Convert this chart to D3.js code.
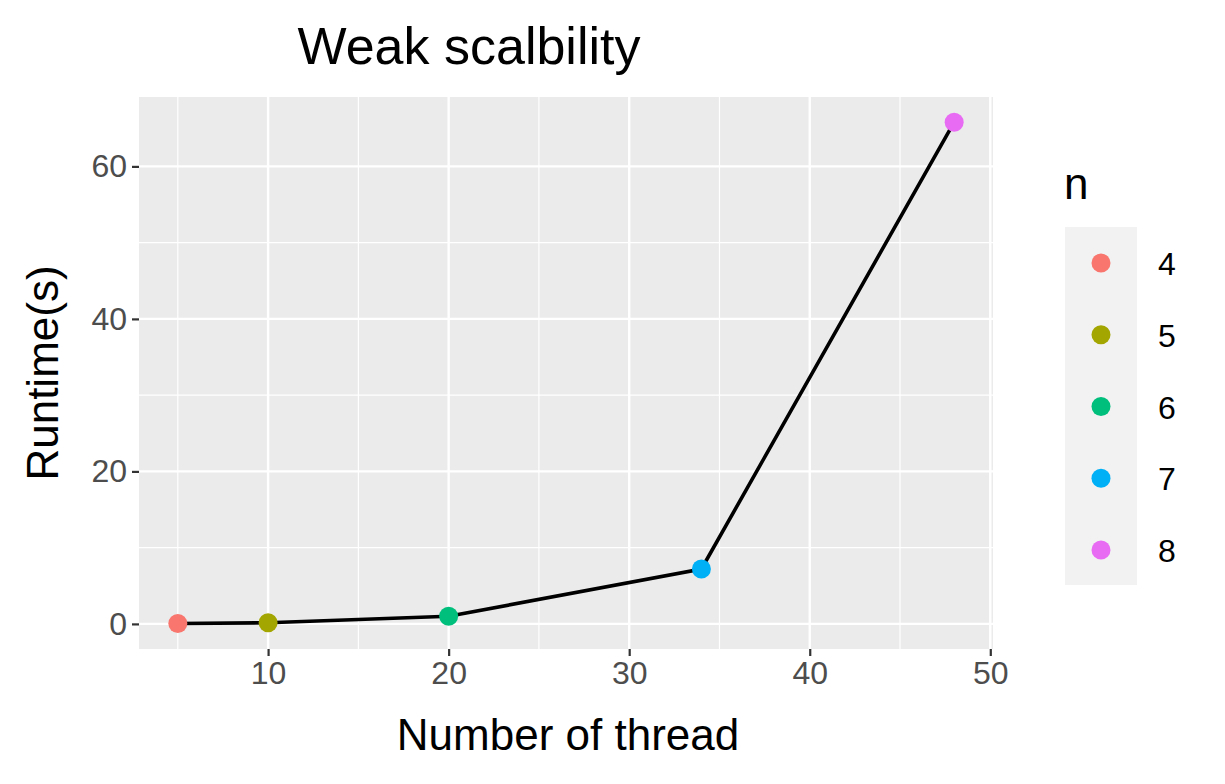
<!DOCTYPE html>
<html><head><meta charset="utf-8">
<script src="https://cdn.jsdelivr.net/npm/d3@7"></script>
<style>body{margin:0;background:#fff}text{font-family:"Liberation Sans",Arial,sans-serif}</style>
</head><body>
<svg id="chart" width="1225" height="784"></svg>
<script>
var threads = [5, 10, 20, 34, 48];
var runtime = [0.05, 0.15, 1.0, 7.2, 65.8];
var nLabels = ["4", "5", "6", "7", "8"];
var colors = ["#F8766D", "#A3A500", "#00BF7D", "#00B0F6", "#E76BF3"];
var xTicks = [10, 20, 30, 40, 50];
var yTicks = [0, 20, 40, 60];

var svg = d3.select("#chart");
var m = {l: 139, r: 993, t: 97, b: 649};
var x = d3.scaleLinear().domain([2.85, 50.15]).range([m.l, m.r]);
var y = d3.scaleLinear().domain([-3.29, 69.1]).range([m.b, m.t]);

svg.append("rect").attr("x", m.l).attr("y", m.t).attr("width", m.r - m.l).attr("height", m.b - m.t).attr("fill", "#EBEBEB");

var xMinor = [5, 15, 25, 35, 45], yMinor = [10, 30, 50];
var g = svg.append("g");
xMinor.forEach(function(d){ g.append("line").attr("x1", x(d)).attr("x2", x(d)).attr("y1", m.t).attr("y2", m.b).attr("stroke", "#fff").attr("stroke-width", 1.2); });
yMinor.forEach(function(d){ g.append("line").attr("y1", y(d)).attr("y2", y(d)).attr("x1", m.l).attr("x2", m.r).attr("stroke", "#fff").attr("stroke-width", 1.2); });
xTicks.forEach(function(d){ g.append("line").attr("x1", x(d)).attr("x2", x(d)).attr("y1", m.t).attr("y2", m.b).attr("stroke", "#fff").attr("stroke-width", 2.4); });
yTicks.forEach(function(d){ g.append("line").attr("y1", y(d)).attr("y2", y(d)).attr("x1", m.l).attr("x2", m.r).attr("stroke", "#fff").attr("stroke-width", 2.4); });

var xAxis = svg.append("g").attr("transform", "translate(0," + m.b + ")")
  .call(d3.axisBottom(x).tickValues(xTicks).tickSize(7).tickPadding(5));
var yAxis = svg.append("g").attr("transform", "translate(" + m.l + ",0)")
  .call(d3.axisLeft(y).tickValues(yTicks).tickSize(7).tickPadding(5));
[xAxis, yAxis].forEach(function(a){
  a.select(".domain").remove();
  a.selectAll("line").attr("stroke", "#333").attr("stroke-width", 2.2);
  a.selectAll("text").attr("fill", "#4D4D4D").style("font-size", "32px");
});

var pts = threads.map(function(t, i){ return [t, runtime[i]]; });
svg.append("path").datum(pts).attr("fill", "none").attr("stroke", "#000").attr("stroke-width", 3.6)
  .attr("d", d3.line().x(function(d){ return x(d[0]); }).y(function(d){ return y(d[1]); }));
svg.selectAll("circle.pt").data(pts).enter().append("circle").attr("class", "pt")
  .attr("cx", function(d){ return x(d[0]); }).attr("cy", function(d){ return y(d[1]); })
  .attr("r", 9.5).attr("fill", function(d, i){ return colors[i]; });

svg.append("text").attr("x", 469).attr("y", 64).attr("text-anchor", "middle").style("font-size", "52px").text("Weak scalbility");
svg.append("text").attr("x", (m.l + m.r) / 2 + 2).attr("y", 750).attr("text-anchor", "middle").style("font-size", "44px").text("Number of thread");
svg.append("text").attr("transform", "translate(58," + (m.t + m.b) / 2 + ") rotate(-90)").attr("text-anchor", "middle").style("font-size", "44px").text("Runtime(s)");

svg.append("text").attr("x", 1064).attr("y", 199).style("font-size", "44px").text("n");
svg.append("rect").attr("x", 1065).attr("y", 227).attr("width", 72).attr("height", 358).attr("fill", "#F2F2F2");
var ly = d3.scalePoint().domain(nLabels).range([263, 550]);
nLabels.forEach(function(n, i){
  svg.append("circle").attr("cx", 1101).attr("cy", ly(n)).attr("r", 9.5).attr("fill", colors[i]);
  svg.append("text").attr("x", 1158).attr("y", ly(n) + 12).style("font-size", "32px").text(n);
});
</script>
</body></html>
